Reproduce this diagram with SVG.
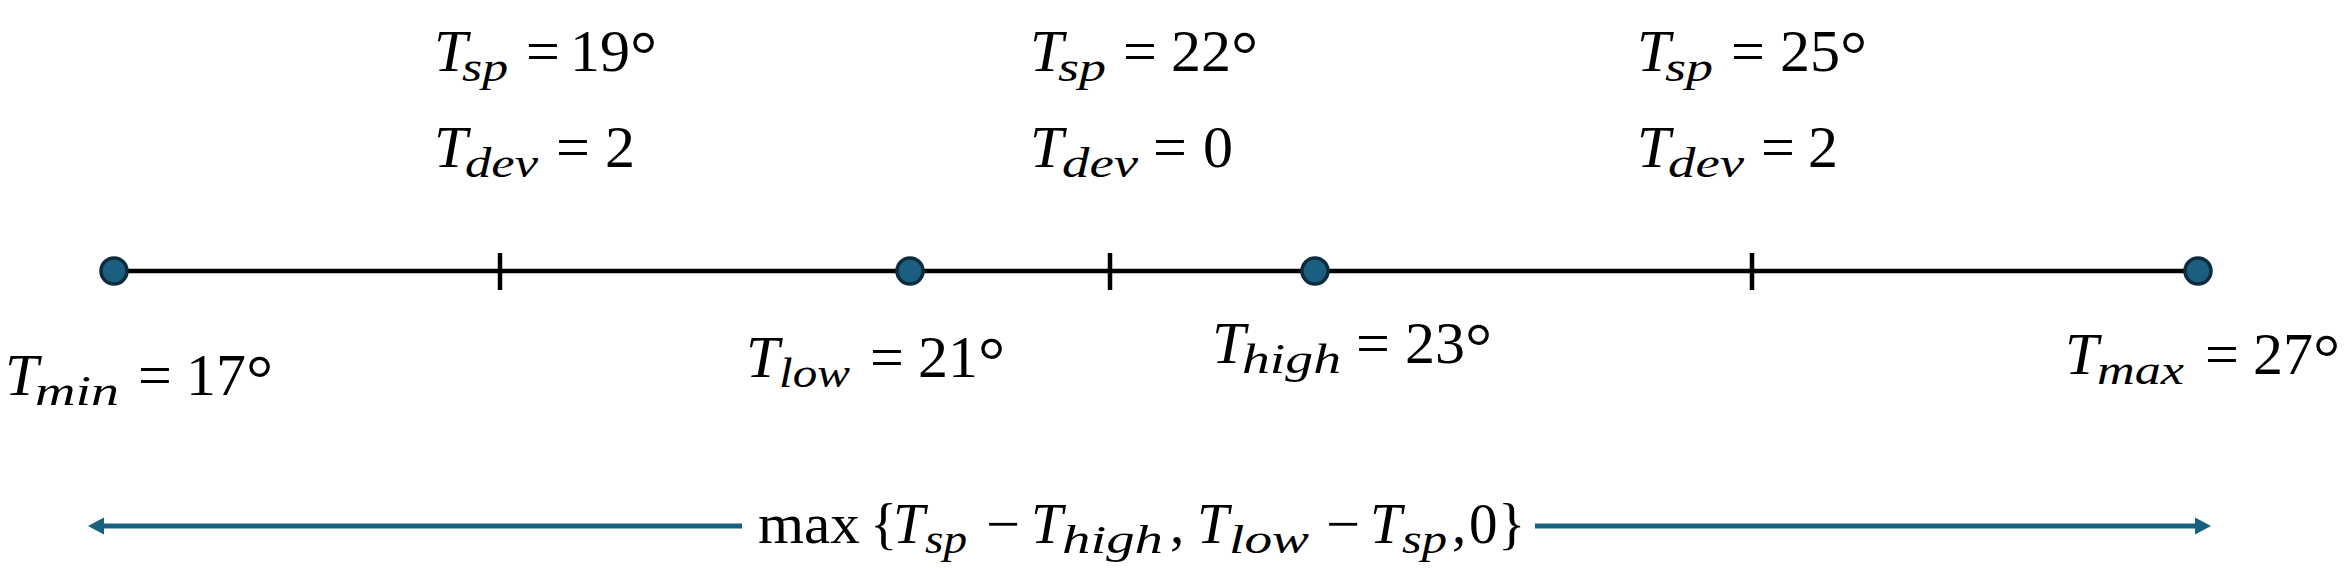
<svg xmlns="http://www.w3.org/2000/svg" width="2348" height="575" viewBox="0 0 2348 575">
<style>
text{font-family:"Liberation Serif","Times New Roman",serif;fill:#000}
.m{font-size:60px}
.f{font-size:57px}
.i{font-style:italic}
.s{font-size:42px;font-style:italic}
.sf{font-size:41px;font-style:italic}
.dg{font-size:68px}
.axis{stroke:#000;stroke-width:4.5;fill:none}
.pt{fill:#1b5f80;stroke:#0c2b3e;stroke-width:3.5}
.arr{stroke:#17607f;stroke-width:5;fill:none}
</style>
<defs>
<marker id="ah" markerUnits="userSpaceOnUse" markerWidth="17" markerHeight="18" refX="1" refY="8.5" orient="auto" viewBox="0 0 17 17">
<path d="M0,0 L16,8.5 L0,17 Z" fill="#17607f"/>
</marker>
</defs>
<rect width="2348" height="575" fill="#fff"/>

<g id="connectors">
<line class="axis" x1="114" y1="271" x2="2197" y2="271"/>
<line class="axis" x1="500" y1="253" x2="500" y2="290"/>
<line class="axis" x1="1110" y1="253" x2="1110" y2="290"/>
<line class="axis" x1="1752" y1="253" x2="1752" y2="290"/>
<line class="arr" x1="742" y1="526" x2="103" y2="526" marker-end="url(#ah)"/>
<line class="arr" x1="1535" y1="526" x2="2196" y2="526" marker-end="url(#ah)"/>
</g>

<g id="node-tmin">
<circle class="pt" cx="114" cy="271" r="13"/>
<text class="m i" x="5" y="395">T<tspan class="s" x="35" dy="10" textLength="84" lengthAdjust="spacingAndGlyphs">min</tspan></text>
<text class="m" x="138" y="395">=<tspan x="186">17</tspan><tspan class="dg" dy="7">°</tspan></text>
</g>

<g id="node-tlow">
<circle class="pt" cx="910" cy="271" r="13"/>
<text class="m i" x="746" y="377">T<tspan class="s" x="779" dy="10" textLength="71" lengthAdjust="spacingAndGlyphs">low</tspan></text>
<text class="m" x="870" y="377">=<tspan x="918">21</tspan><tspan class="dg" dy="7">°</tspan></text>
</g>

<g id="node-thigh">
<circle class="pt" cx="1315" cy="271" r="13"/>
<text class="m i" x="1212" y="363">T<tspan class="s" x="1242" dy="10" textLength="99" lengthAdjust="spacingAndGlyphs">high</tspan></text>
<text class="m" x="1356" y="363">=<tspan x="1405">23</tspan><tspan class="dg" dy="7">°</tspan></text>
</g>

<g id="node-tmax">
<circle class="pt" cx="2198" cy="271" r="13"/>
<text class="m i" x="2065" y="374">T<tspan class="s" x="2097" dy="10" textLength="87" lengthAdjust="spacingAndGlyphs">max</tspan></text>
<text class="m" x="2205" y="374">=<tspan x="2253">27</tspan><tspan class="dg" dy="7">°</tspan></text>
</g>

<g id="label-sp19">
<text class="m i" x="434" y="71">T<tspan class="s" x="462" dy="10" textLength="46" lengthAdjust="spacingAndGlyphs">sp</tspan></text>
<text class="m" x="526" y="71">=<tspan x="570">19</tspan><tspan class="dg" dy="7">°</tspan></text>
<text class="m i" x="434" y="167">T<tspan class="s" x="465" dy="10" textLength="73" lengthAdjust="spacingAndGlyphs">dev</tspan></text>
<text class="m" x="556" y="167">=<tspan x="605">2</tspan></text>
</g>

<g id="label-sp22">
<text class="m i" x="1030" y="71">T<tspan class="s" x="1058" dy="10" textLength="48" lengthAdjust="spacingAndGlyphs">sp</tspan></text>
<text class="m" x="1123" y="71">=<tspan x="1171">22</tspan><tspan class="dg" dy="7">°</tspan></text>
<text class="m i" x="1030" y="167">T<tspan class="s" x="1062" dy="10" textLength="76" lengthAdjust="spacingAndGlyphs">dev</tspan></text>
<text class="m" x="1153" y="167">=<tspan x="1203">0</tspan></text>
</g>

<g id="label-sp25">
<text class="m i" x="1637" y="71">T<tspan class="s" x="1665" dy="10" textLength="48" lengthAdjust="spacingAndGlyphs">sp</tspan></text>
<text class="m" x="1731" y="71">=<tspan x="1780">25</tspan><tspan class="dg" dy="7">°</tspan></text>
<text class="m i" x="1637" y="167">T<tspan class="s" x="1668" dy="10" textLength="76" lengthAdjust="spacingAndGlyphs">dev</tspan></text>
<text class="m" x="1761" y="167">=<tspan x="1808">2</tspan></text>
</g>

<g id="formula">
<text class="f" x="758" y="543"><tspan textLength="102" lengthAdjust="spacingAndGlyphs">max</tspan><tspan x="870">{</tspan><tspan class="i" x="893">T</tspan><tspan class="sf" x="925" dy="10" textLength="42" lengthAdjust="spacingAndGlyphs">sp</tspan><tspan x="986" dy="-10" textLength="34" lengthAdjust="spacingAndGlyphs">−</tspan><tspan class="i" x="1031">T</tspan><tspan class="sf" x="1062" dy="10" textLength="101" lengthAdjust="spacingAndGlyphs">high</tspan><tspan x="1170" dy="-10">,</tspan><tspan class="i" x="1197">T</tspan><tspan class="sf" x="1229" dy="10" textLength="80" lengthAdjust="spacingAndGlyphs">low</tspan><tspan x="1326" dy="-10" textLength="34" lengthAdjust="spacingAndGlyphs">−</tspan><tspan class="i" x="1370">T</tspan><tspan class="sf" x="1402" dy="10" textLength="45" lengthAdjust="spacingAndGlyphs">sp</tspan><tspan x="1452" dy="-10">,</tspan><tspan x="1469">0</tspan><tspan x="1498">}</tspan></text>
</g>
</svg>
